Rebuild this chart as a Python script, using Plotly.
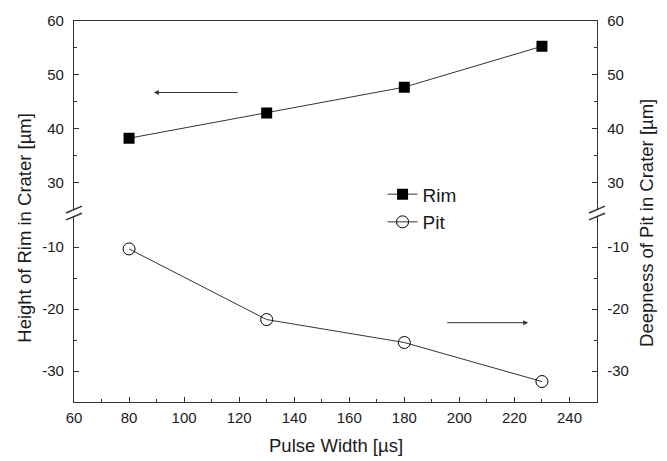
import plotly.graph_objects as go

pulse_width = [80, 130, 180, 230]
rim_height = [38.2, 42.9, 47.7, 55.3]
pit_depth = [-10.3, -21.7, -25.4, -31.7]

x_range = [60, 250]
top_range = [25, 60]
bottom_range = [-35, -5]

top_tickvals = [30, 40, 50, 60]
top_ticktext = ["30", "40", "50", "60"]
bottom_tickvals = [-30, -20, -10]
bottom_ticktext = ["-30", "-20", "-10"]
x_tickvals = [60, 80, 100, 120, 140, 160, 180, 200, 220, 240]

FONT = "Liberation Sans, Arial, sans-serif"
INK = "#1a1a1a"
LINE = "#333333"

fig = go.Figure()

fig.add_trace(go.Scatter(
    x=pulse_width, y=rim_height, name="Rim", mode="lines+markers",
    xaxis="x2", yaxis="y2",
    line=dict(color=LINE, width=1),
    marker=dict(symbol="square", size=11, color="black", line=dict(width=0)),
))
fig.add_trace(go.Scatter(
    x=pulse_width, y=pit_depth, name="Pit", mode="lines+markers",
    xaxis="x", yaxis="y3",
    line=dict(color=LINE, width=1),
    marker=dict(symbol="circle-open", size=12, color="black", line=dict(width=1)),
))
# invisible helpers so the companion axes are drawn
fig.add_trace(go.Scatter(x=pulse_width, y=pit_depth, xaxis="x", yaxis="y",
                         mode="markers", marker=dict(opacity=0), showlegend=False, hoverinfo="skip"))
fig.add_trace(go.Scatter(x=pulse_width, y=rim_height, xaxis="x2", yaxis="y4",
                         mode="markers", marker=dict(opacity=0), showlegend=False, hoverinfo="skip"))

common_y = dict(
    showline=True, linecolor=LINE, linewidth=1.3,
    ticks="inside", ticklen=5, tickwidth=1.3, tickcolor=LINE,
    showgrid=False, zeroline=False,
    ticklabelstandoff=6,
    tickfont=dict(family=FONT, size=15, color=INK),
    minor=dict(dtick=5, ticks="inside", ticklen=3, tickcolor=LINE, tickwidth=1.1, showgrid=False),
)
bottom_ticks = dict(tickmode="array", tickvals=bottom_tickvals, ticktext=bottom_ticktext)
top_ticks = dict(tickmode="array", tickvals=top_tickvals, ticktext=top_ticktext)

fig.update_layout(
    width=667, height=461,
    margin=dict(l=74, r=70, t=15, b=59),
    paper_bgcolor="white", plot_bgcolor="white",
    showlegend=True,
    legend=dict(x=0.59, y=0.595, xanchor="left", yanchor="top",
                font=dict(family=FONT, size=19, color=INK),
                bgcolor="rgba(0,0,0,0)", tracegroupgap=2, itemwidth=30),
    xaxis=dict(
        domain=[0, 1], range=x_range, anchor="y",
        showline=True, linecolor=LINE, linewidth=1.3,
        ticks="inside", ticklen=5, tickwidth=1.3, tickcolor=LINE,
        tickmode="array", tickvals=x_tickvals,
        showgrid=False, zeroline=False, ticklabelstandoff=2,
        tickfont=dict(family=FONT, size=15, color=INK),
        minor=dict(dtick=10, ticks="inside", ticklen=3, tickcolor=LINE, tickwidth=1.1, showgrid=False),
    ),
    xaxis2=dict(
        domain=[0, 1], range=x_range, anchor="y2", side="top",
        showline=True, linecolor=LINE, linewidth=1.3,
        ticks="", showticklabels=False, showgrid=False, zeroline=False,
    ),
    yaxis=dict(domain=[0, 0.488], range=bottom_range, anchor="x", side="left", **bottom_ticks, **common_y),
    yaxis2=dict(domain=[0.506, 1], range=top_range, anchor="x2", side="left", **top_ticks, **common_y),
    yaxis3=dict(range=bottom_range, overlaying="y", anchor="x", side="right", **bottom_ticks, **common_y),
    yaxis4=dict(range=top_range, overlaying="y2", anchor="x2", side="right", **top_ticks, **common_y),
)

# axis break marks
for xc in (0.0, 1.0):
    for (y0, y1) in ((0.496, 0.514), (0.478, 0.4955)):
        fig.add_shape(type="line", xref="paper", yref="paper",
                      x0=xc - 0.0153, x1=xc + 0.0153, y0=y0, y1=y1,
                      line=dict(color=LINE, width=1.5))

# direction arrows
fig.add_annotation(x=89, y=46.7, ax=120, ay=46.7, xref="x2", yref="y2",
                   axref="x2", ayref="y2", text="", showarrow=True,
                   arrowhead=2, arrowsize=1, arrowwidth=1, arrowcolor=LINE)
fig.add_annotation(x=225, y=-22.2, ax=195, ay=-22.2, xref="x", yref="y",
                   axref="x", ayref="y", text="", showarrow=True,
                   arrowhead=2, arrowsize=1, arrowwidth=1, arrowcolor=LINE)

# axis titles
fig.add_annotation(text="Height of Rim in Crater [µm]", xref="paper", yref="paper",
                   x=-0.094, y=0.457, textangle=-90, showarrow=False,
                   xanchor="center", yanchor="middle",
                   font=dict(family=FONT, size=18.5, color=INK))
fig.add_annotation(text="Deepness of Pit in Crater [µm]", xref="paper", yref="paper",
                   x=1.0956, y=0.47, textangle=-90, showarrow=False,
                   xanchor="center", yanchor="middle",
                   font=dict(family=FONT, size=18.5, color=INK))
fig.add_annotation(text="Pulse Width [µs]", xref="paper", yref="paper",
                   x=0.501, y=-0.114, showarrow=False,
                   xanchor="center", yanchor="middle",
                   font=dict(family=FONT, size=18.5, color=INK))

fig.write_html("out.html")
